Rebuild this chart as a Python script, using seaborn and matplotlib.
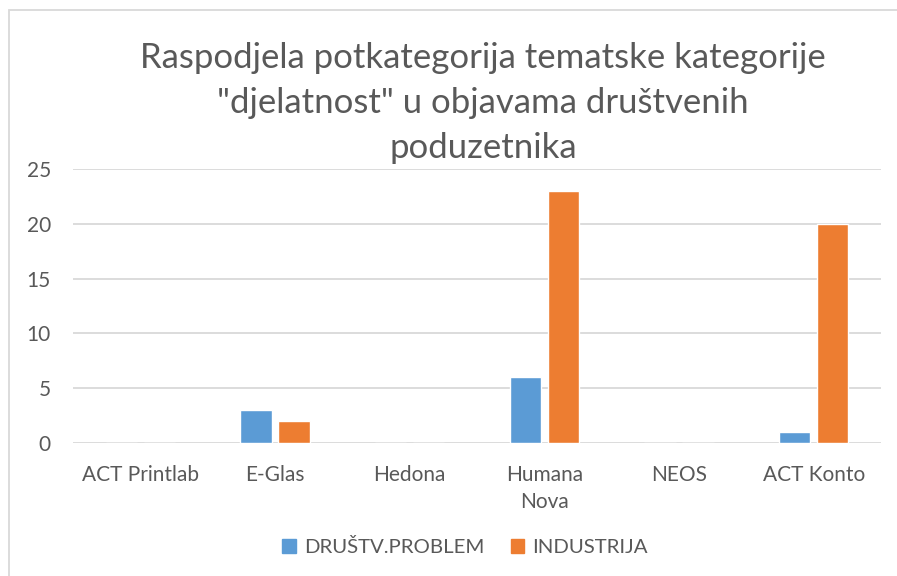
import matplotlib
matplotlib.use("Agg")
import matplotlib.pyplot as plt
import seaborn as sns
import pandas as pd
from matplotlib.patches import Rectangle

categories = ["ACT Printlab", "E-Glas", "Hedona", "Humana\nNova", "NEOS", "ACT Konto"]
series_names = ["DRUŠTV.PROBLEM", "INDUSTRIJA"]
drustv_problem = [0, 3, 0, 6, 0, 1]
industrija = [0, 2, 0, 23, 0, 20]
y_ticks = [0, 5, 10, 15, 20, 25]
title = 'Raspodjela potkategorija tematske kategorije\n"djelatnost" u objavama društvenih\npoduzetnika'
colors = ["#5B9BD5", "#ED7D31"]

df = pd.DataFrame({
    "kategorija": categories * 2,
    "serija": [series_names[0]] * len(categories) + [series_names[1]] * len(categories),
    "vrijednost": drustv_problem + industrija,
})

sns.set_theme(style="white")
plt.rcParams["font.family"] = ["Lato", "DejaVu Sans"]
text_color = "#595959"

W, H = 897, 576
fig = plt.figure(figsize=(W / 100, H / 100), dpi=100)
ax = fig.add_axes([73 / W, 1 - 443 / H, (881 - 73) / W, (443 - 169) / H])

sns.barplot(data=df, x="kategorija", y="vrijednost", hue="serija",
            order=categories, hue_order=series_names, palette=colors,
            width=0.564, gap=0.18, ax=ax, legend=False, saturation=1)

ax.set_ylim(0, 25)
ax.set_xlim(-0.5, len(categories) - 0.5)
ax.set_yticks(y_ticks)
ax.yaxis.grid(True, color="#D9D9D9", linewidth=1.3)
ax.set_axisbelow(True)
for s in ax.spines.values():
    s.set_visible(False)
ax.set_xlabel("")
ax.set_ylabel("")
ax.tick_params(axis="both", length=0, labelsize=15, colors=text_color)
ax.tick_params(axis="y", pad=16)
ax.tick_params(axis="x", pad=16)
for lbl in ax.get_xticklabels():
    lbl.set_linespacing(1.45)

fig.text(483 / W, 1 - 103 / H, title, ha="center", va="center", fontsize=25,
         color=text_color, linespacing=1.5)

# legend
handles = [Rectangle((0, 0), 1, 1, color=c) for c in colors]
fig.legend(handles, series_names, loc="center", bbox_to_anchor=(465 / W, 1 - 547 / H),
           ncol=2, frameon=False, fontsize=14.7, labelcolor=text_color,
           handlelength=0.65, handleheight=0.65, handletextpad=0.4, columnspacing=1.3)

# chart border
fig.patches.append(Rectangle((9 / W, -0.1), 1.2, 1 - 10 / H + 0.1, transform=fig.transFigure,
                             fill=False, edgecolor="#D9D9D9", linewidth=1.3))

fig.savefig("out.png", dpi=100)
